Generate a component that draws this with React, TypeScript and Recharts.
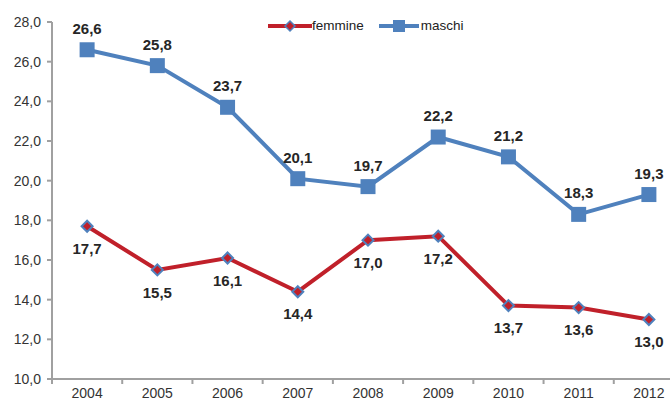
import { LineChart, Line, XAxis, YAxis, LabelList } from 'recharts';

const years = ['2004', '2005', '2006', '2007', '2008', '2009', '2010', '2011', '2012'];
const femmine = [17.7, 15.5, 16.1, 14.4, 17.0, 17.2, 13.7, 13.6, 13.0];
const maschi = [26.6, 25.8, 23.7, 20.1, 19.7, 22.2, 21.2, 18.3, 19.3];
const yTicks = [10, 12, 14, 16, 18, 20, 22, 24, 26, 28];

const RED = '#C0202A';
const BLUE = '#4F81BD';
const AXIS = '#A0A0A0';
const FONT = '"Liberation Sans", Arial, sans-serif';

const CHART_W = 690;
const CHART_H = 401;
const Y_W = 52;
const RIGHT = 6;
const HALF_BAND = (CHART_W - Y_W - RIGHT) / years.length / 2;

const data = years.map((year, i) => ({ year, femmine: femmine[i], maschi: maschi[i] }));

const fmt = (v: number) => Number(v).toFixed(1).replace('.', ',');

function XTick(props: any) {
  const { x, y, payload } = props;
  const bx = x - HALF_BAND;
  return (
    <g>
      <line x1={bx} x2={bx} y1={y - 9} y2={y - 4} stroke={AXIS} strokeWidth={2} />
      <text x={x} y={y + 10} textAnchor="middle" fontSize={14} fill="#333" fontFamily={FONT}>
        {payload.value}
      </text>
    </g>
  );
}

function square(p: any) {
  const { cx, cy, index } = p;
  return <rect key={`sq-${index}`} x={cx - 7.5} y={cy - 7.5} width={15} height={15} fill={BLUE} />;
}

function diamond(p: any) {
  const { cx, cy, index } = p;
  const r = 5.5;
  return (
    <polygon
      key={`dm-${index}`}
      points={`${cx},${cy - r} ${cx + r},${cy} ${cx},${cy + r} ${cx - r},${cy}`}
      fill={RED}
      stroke={BLUE}
      strokeWidth={2}
    />
  );
}

function ChartLegend() {
  const text = { fontSize: 13.5, color: '#222', fontFamily: FONT, lineHeight: '20px' };
  return (
    <div style={{ position: 'absolute', left: 268, top: 16, display: 'flex', alignItems: 'center', height: 20 }}>
      <svg width={44} height={20}>
        <line x1={0} x2={44} y1={10} y2={10} stroke={RED} strokeWidth={4} />
        <polygon points="22,5 27,10 22,15 17,10" fill={RED} stroke={BLUE} strokeWidth={1.5} />
      </svg>
      <span style={text}>femmine</span>
      <svg width={40} height={20} style={{ marginLeft: 15 }}>
        <line x1={0} x2={40} y1={10} y2={10} stroke={BLUE} strokeWidth={4} />
        <rect x={14} y={4} width={12} height={12} fill={BLUE} />
      </svg>
      <span style={{ ...text, marginLeft: 2 }}>maschi</span>
    </div>
  );
}

export default function App() {
  return (
    <div style={{ position: 'fixed', left: 0, top: 0, width: 670, height: 401, overflow: 'hidden', background: '#fff' }}>
      <LineChart width={CHART_W} height={CHART_H} data={data} margin={{ top: 22, right: RIGHT, left: 0, bottom: 0 }}>
        <XAxis
          dataKey="year"
          height={22}
          padding={{ left: HALF_BAND, right: HALF_BAND }}
          tickSize={5}
          tickMargin={4}
          tickLine={false}
          axisLine={{ stroke: AXIS, strokeWidth: 2 }}
          tick={<XTick />}
          interval={0}
        />
        <YAxis
          width={Y_W}
          domain={[10, 28]}
          ticks={yTicks}
          tickFormatter={fmt}
          tickSize={5}
          tickMargin={6}
          axisLine={{ stroke: AXIS, strokeWidth: 2 }}
          tickLine={{ stroke: AXIS, strokeWidth: 2 }}
          tick={{ fontSize: 14, fill: '#333', fontFamily: FONT }}
        />
        <Line
          dataKey="femmine"
          name="femmine"
          stroke={RED}
          strokeWidth={4}
          dot={diamond}
          activeDot={false}
          isAnimationActive={false}
        >
          <LabelList
            dataKey="femmine"
            position="bottom"
            offset={17}
            formatter={fmt}
            style={{ fontSize: 15, fontWeight: 'bold', fill: '#262626', fontFamily: FONT }}
          />
        </Line>
        <Line
          dataKey="maschi"
          name="maschi"
          stroke={BLUE}
          strokeWidth={4}
          dot={square}
          activeDot={false}
          isAnimationActive={false}
        >
          <LabelList
            dataKey="maschi"
            position="top"
            offset={16}
            formatter={fmt}
            style={{ fontSize: 15, fontWeight: 'bold', fill: '#262626', fontFamily: FONT }}
          />
        </Line>
      </LineChart>
      <ChartLegend />
    </div>
  );
}
